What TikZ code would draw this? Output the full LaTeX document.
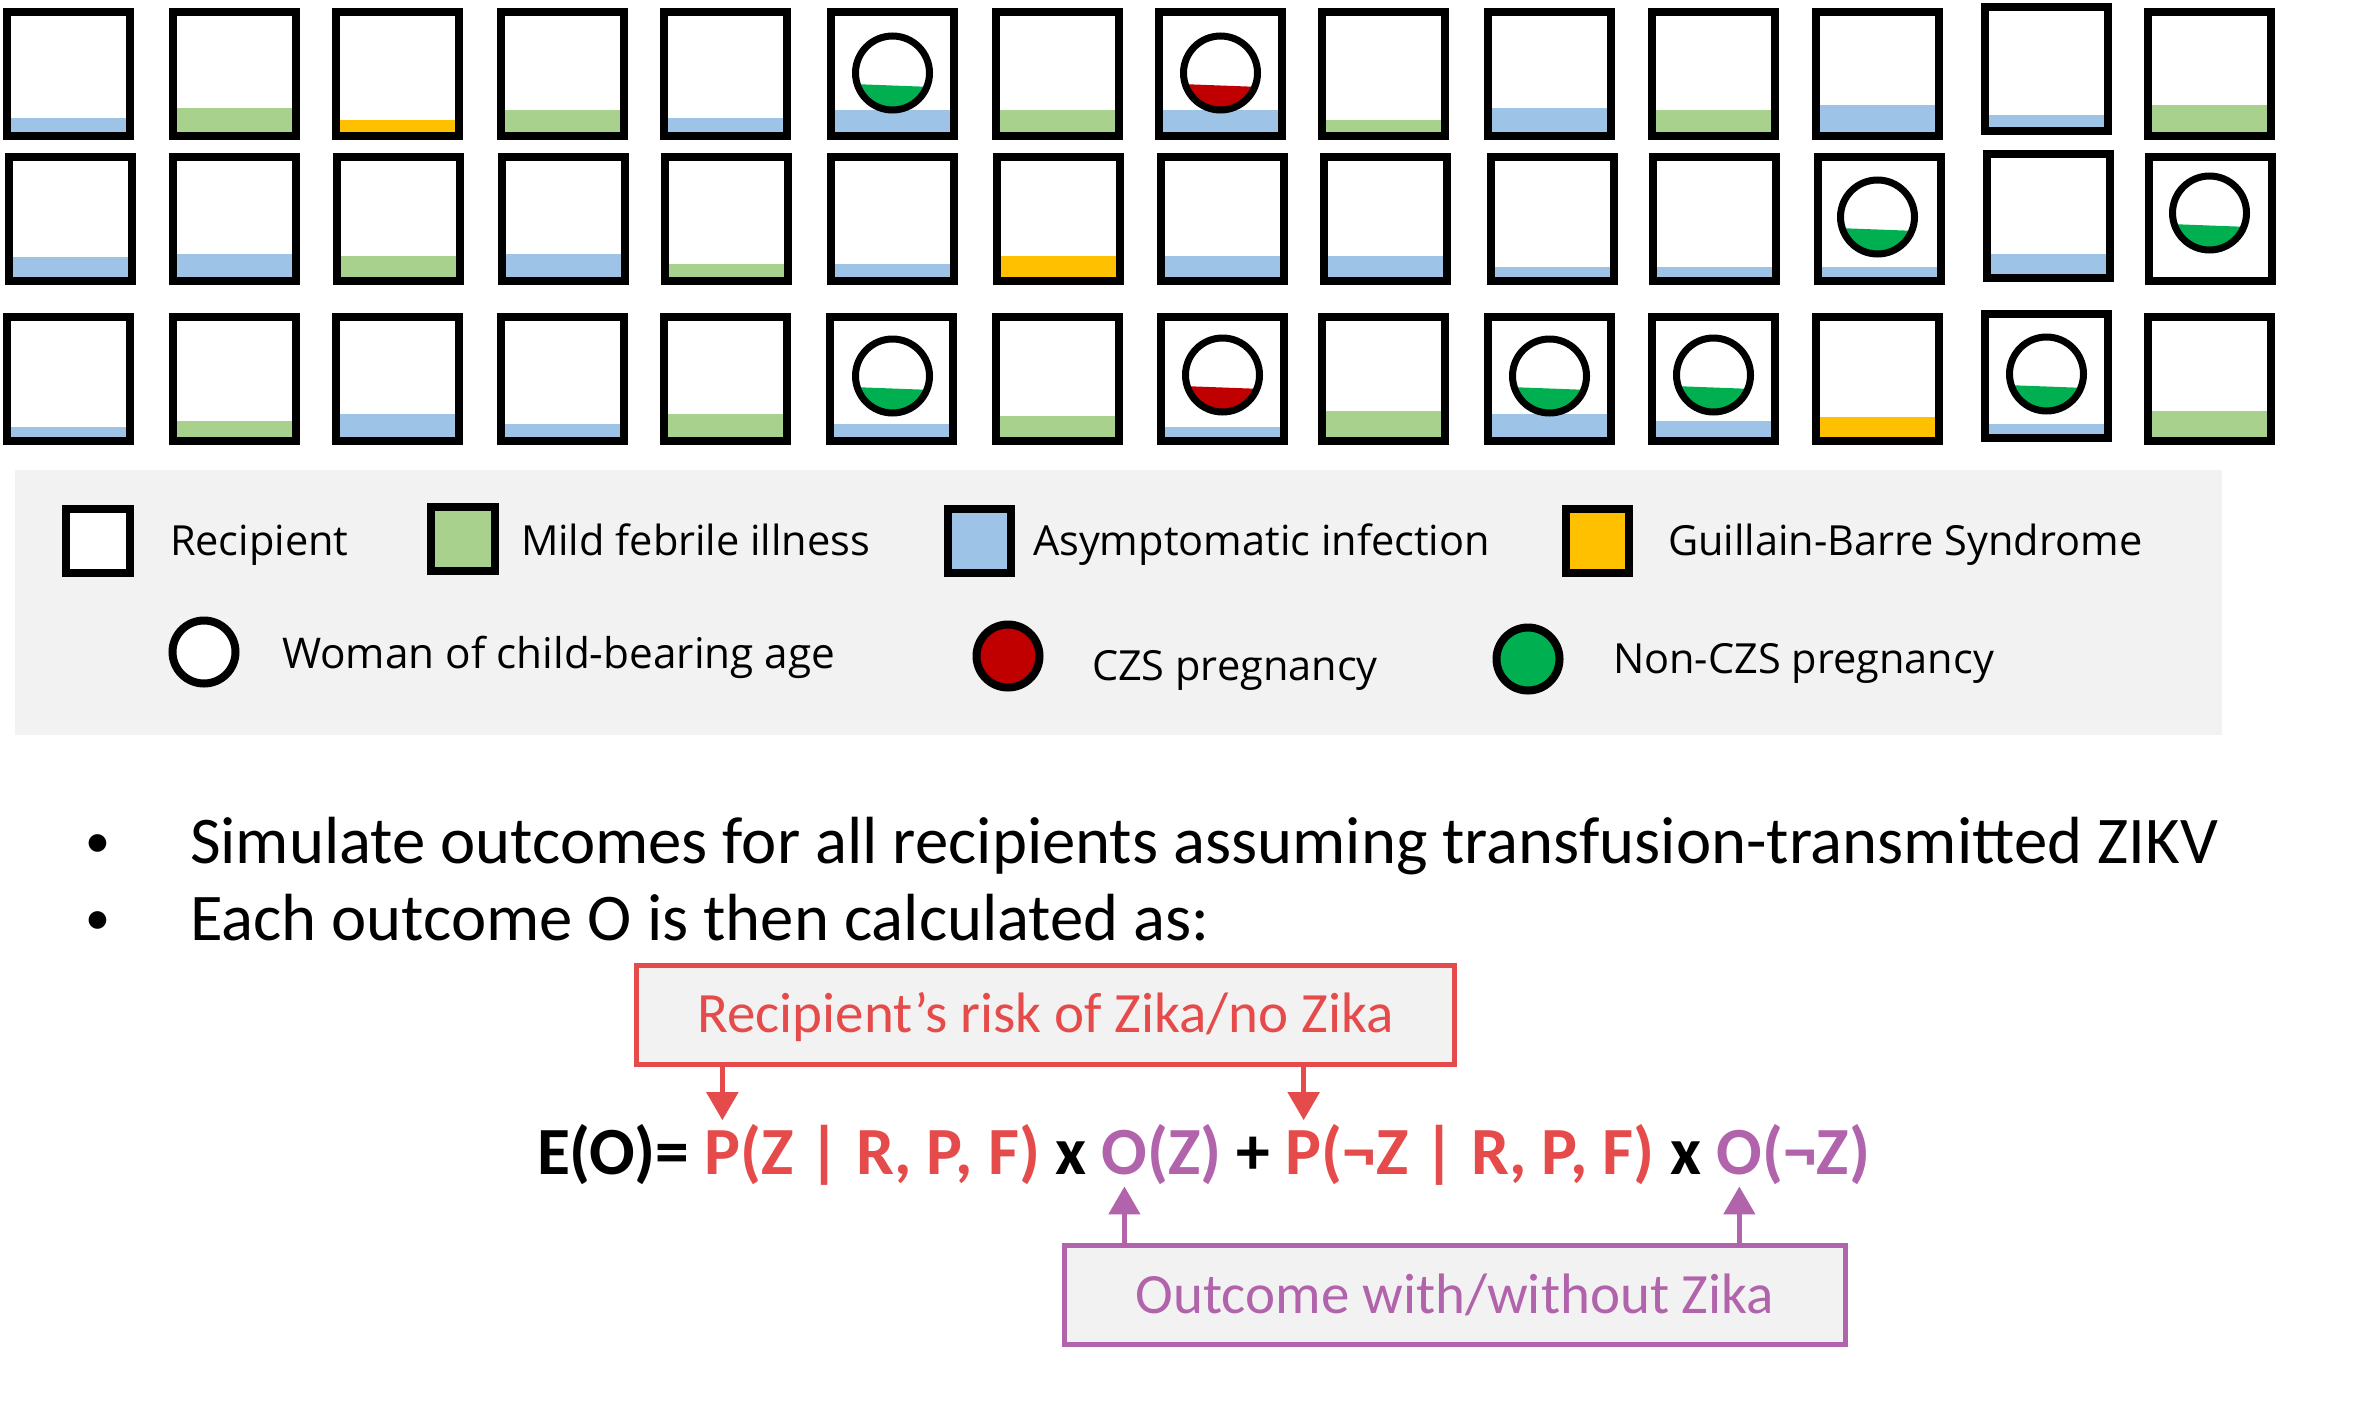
\documentclass[tikz,border=0pt]{standalone}
\usepackage{fontspec}
\setmainfont{Carlito}
\newfontfamily\osans{Open Sans}
\usetikzlibrary{arrows.meta,calc}
\definecolor{cblue}{HTML}{9DC3E6}
\definecolor{cgreen}{HTML}{A9D18E}
\definecolor{corange}{HTML}{FFC000}
\definecolor{dgreen}{HTML}{00B050}
\definecolor{dred}{HTML}{C00000}
\definecolor{lgrey}{HTML}{F2F2F2}
\definecolor{tred}{HTML}{E64B4B}
\definecolor{tpurple}{HTML}{B163AB}
\tikzset{
  boxframe/.style={draw=black, line width=8pt},
  lgtext/.style={anchor=base west, inner sep=0pt, outer sep=0pt, font=\osans\fontsize{41.5}{50}\selectfont},
  bullettext/.style={anchor=base west, inner sep=0pt, outer sep=0pt, font=\fontsize{66.7}{80}\selectfont},
  bulletdot/.style={anchor=base, inner sep=0pt, outer sep=0pt, font=\fontsize{50}{60}\selectfont},
  fml/.style={anchor=base west, inner sep=0pt, outer sep=0pt, font=\fontsize{67.5}{80}\selectfont\bfseries},
  calloutbox/.style={draw=#1, line width=5pt, fill=lgrey, text=#1, inner sep=0pt,
    font=\fontsize{57}{68}\selectfont},
  callarrow/.style={draw=#1, line width=5pt, -{Triangle[width=31pt,length=28pt]}},
}
\newcommand{\fsp}{\ \mbox{}}
% recipient box: x, top y, fill colour, fill top y
\newcommand{\rbox}[4]{%
  \fill[#3] (#1+8,#4) rectangle (#1+123,#2+124);
  \draw[boxframe] (#1+4,#2+4) rectangle (#1+127,#2+128);
}
% pregnancy marker: centre x, centre y, colour
\newcommand{\preg}[3]{%
  \fill[white] (#1,#2) circle (37pt);
  \begin{scope}
    \clip (#1,#2) circle (34pt);
    \fill[#3] (#1-40,#2+11) -- (#1+40,#2+14) -- (#1+40,#2+40) -- (#1-40,#2+40) -- cycle;
  \end{scope}
  \draw[line width=7pt] (#1,#2) circle (37pt);
}
\begin{document}
\begin{tikzpicture}[x=1pt,y=-1pt]
\fill[white] (0,0) rectangle (2355,1411);
\useasboundingbox (0,0) rectangle (2355,1411);

% ---------- row 1 ----------
\rbox{3}{8}{cblue}{118}
\rbox{169}{8}{cgreen}{108}
\rbox{332}{8}{corange}{120}
\rbox{497}{8}{cgreen}{110}
\rbox{660}{8}{cblue}{118}
\rbox{827}{8}{cblue}{110}
\rbox{992}{8}{cgreen}{110}
\rbox{1155}{8}{cblue}{110}
\rbox{1318}{8}{cgreen}{120}
\rbox{1484}{8}{cblue}{108}
\rbox{1648}{8}{cgreen}{110}
\rbox{1812}{8}{cblue}{105}
\rbox{1981}{3}{cblue}{115}
\rbox{2144}{8}{cgreen}{105}
\preg{892.5}{73}{dgreen}
\preg{1220.5}{73}{dred}

% ---------- row 2 ----------
\rbox{5}{153}{cblue}{257}
\rbox{169}{153}{cblue}{254}
\rbox{333}{153}{cgreen}{256}
\rbox{498}{153}{cblue}{254}
\rbox{661}{153}{cgreen}{264}
\rbox{827}{153}{cblue}{264}
\rbox{993}{153}{corange}{256}
\rbox{1157}{153}{cblue}{256}
\rbox{1320}{153}{cblue}{256}
\rbox{1487}{153}{cblue}{267}
\rbox{1649}{153}{cblue}{267}
\rbox{1814}{153}{cblue}{267}
\rbox{1983}{150}{cblue}{254}
\rbox{2145}{153}{white}{277}
\preg{1877.5}{217}{dgreen}
\preg{2209.5}{213}{dgreen}

% ---------- row 3 ----------
\rbox{3}{313}{cblue}{427}
\rbox{169}{313}{cgreen}{421}
\rbox{332}{313}{cblue}{414}
\rbox{497}{313}{cblue}{424}
\rbox{660}{313}{cgreen}{414}
\rbox{826}{313}{cblue}{424}
\rbox{992}{313}{cgreen}{416}
\rbox{1157}{313}{cblue}{427}
\rbox{1318}{313}{cgreen}{411}
\rbox{1484}{313}{cblue}{414}
\rbox{1648}{313}{cblue}{421}
\rbox{1812}{313}{corange}{417}
\rbox{1981}{310}{cblue}{424}
\rbox{2144}{313}{cgreen}{411}
\preg{892.5}{376}{dgreen}
\preg{1222.5}{375}{dred}
\preg{1549.5}{376}{dgreen}
\preg{1713.5}{375}{dgreen}
\preg{2046.5}{374}{dgreen}

% ---------- legend ----------
\fill[lgrey] (15,470) rectangle (2222,735);
\draw[boxframe, fill=white]   (66,509) rectangle (130,573);
\draw[boxframe, fill=cgreen]  (431,507) rectangle (495,571);
\draw[boxframe, fill=cblue]   (948,509) rectangle (1011,573);
\draw[boxframe, fill=corange] (1566,509) rectangle (1629,573);
\node[lgtext] (lrec) at (170,555) {Recipient};
\node[lgtext] (lmild) at (521,555) {Mild febrile illness};
\node[lgtext] (lasym) at (1033,555) {Asymptomatic infection};
\node[lgtext] (lgbs) at (1668,555) {Guillain-Barre Syndrome};
\draw[line width=8pt, fill=white] (204,652) circle (31.5pt);
\draw[line width=8pt, fill=dred] (1008,656) circle (31.5pt);
\draw[line width=8pt, fill=dgreen] (1528,659) circle (31.5pt);
\node[lgtext, font=\osans\fontsize{42.3}{51}\selectfont] (lwoman) at (282,668) {Woman of child-bearing age};
\node[lgtext] (lczs) at (1092,680) {CZS pregnancy};
\node[lgtext] (lnon) at (1613,673) {Non-CZS pregnancy};

% ---------- bullets ----------
\node[bulletdot] (b1) at (97.5,857) {•};
\node[bulletdot] (b2) at (97.5,934) {•};
\node[bullettext] (t1) at (190,863) {Simulate outcomes for all recipients assuming transfusion-transmitted ZIKV};
\node[bullettext] (t2) at (190,940) {Each outcome O is then calculated as:};

% ---------- formula ----------
\node[fml] (f1) at (537,1174) {E(O)=\fsp};
\node[fml, text=tred] (f2) at (f1.base east) {P};
\node[fml, text=tred] (f3) at (f2.base east) {(Z | R, P, F)\fsp};
\node[fml] (f4) at (f3.base east) {x\fsp};
\node[fml, text=tpurple] (f5) at (f4.base east) {O};
\node[fml, text=tpurple] (f6) at (f5.base east) {(Z)\fsp};
\node[fml] (f7) at (f6.base east) {+\fsp};
\node[fml, text=tred] (f8) at (f7.base east) {P};
\node[fml, text=tred] (f9) at (f8.base east) {(¬Z | R, P, F)\fsp};
\node[fml] (f10) at (f9.base east) {x\fsp};
\node[fml, text=tpurple] (f11) at (f10.base east) {O};
\node[fml, text=tpurple] (f12) at (f11.base east) {(¬Z)};

% ---------- callouts ----------
\node[calloutbox=tred, minimum width=818pt, minimum height=99pt, text height=34pt, text depth=0pt]
  (rbox) at (1045.5,1015) {Recipient’s risk of Zika/no Zika};
\node[calloutbox=tpurple, minimum width=781pt, minimum height=99pt, text height=36pt, text depth=0pt]
  (pbox) at (1455,1295) {Outcome with/without Zika};

\draw[callarrow=tred] (rbox.south -| f2.center) -- ([yshift=10pt]f2.north);
\draw[callarrow=tred] (rbox.south -| f8.center) -- ([yshift=10pt]f8.north);
\draw[callarrow=tpurple] (pbox.north -| f5.center) -- ([yshift=-12pt]f5.south);
\draw[callarrow=tpurple] (pbox.north -| f11.center) -- ([yshift=-12pt]f11.south);
\end{tikzpicture}
\end{document}
